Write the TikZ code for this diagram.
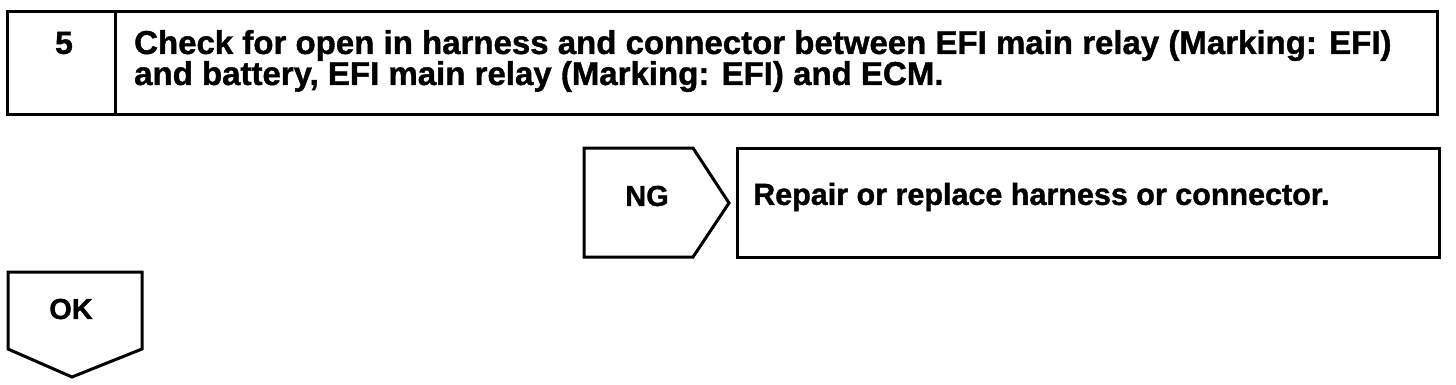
\documentclass[tikz,border=0pt]{standalone}
\usepackage{fontspec}
\setmainfont[BoldFeatures={FakeBold=1.2}]{Liberation Sans}
\usetikzlibrary{positioning}
\tikzset{
  frame/.style={draw, line width=3pt, line join=miter},
  steptext/.style={font=\bfseries\fontsize{33}{31}\selectfont, inner sep=0pt, align=left},
  fixtext/.style={font=\bfseries\fontsize{30.5}{30}\selectfont, inner sep=0pt},
  tagtext/.style={font=\bfseries\fontsize{29}{30}\selectfont, inner sep=0pt}
}

\begin{document}
\begin{tikzpicture}[x=1pt,y=-1pt]
\useasboundingbox (0,0) rectangle (1456,384);
% step box
\draw[frame] (7,11) rectangle (1437,114);
\draw[frame] (115,11) -- (115,114);
\node[tagtext,font=\bfseries\fontsize{32}{30}\selectfont] (stepno) at (64,43) {5};
\node[steptext,anchor=west] (checktext) at (134,61) {Check for open in harness and connector between EFI main relay (Marking: EFI)\\and battery, EFI main relay (Marking: EFI) and ECM.};
% NG branch
\draw[frame] (584,148) -- (693,148) -- (729,203) -- (693,257) -- (584,257) -- cycle;
\draw[frame] (737,148) rectangle (1439,257);
\node[tagtext] (ngtext) at (647,196) {NG};
\node[fixtext,anchor=west] (repairtext) at (753,197) {Repair or replace harness or connector.};
% OK branch
\draw[frame] (8,272) -- (142,272) -- (142,349) -- (72,377) -- (8,349) -- cycle;
\node[tagtext] (oktext) at (71,309) {OK};
\end{tikzpicture}
\end{document}
